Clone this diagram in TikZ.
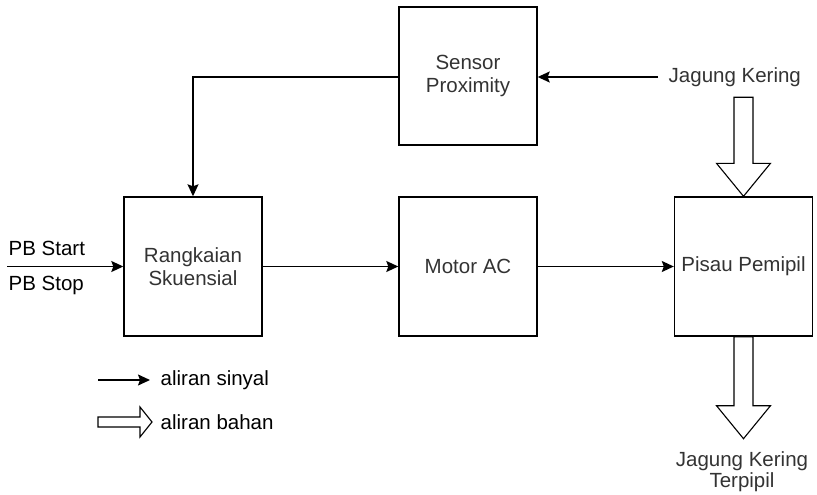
\documentclass[tikz,border=0pt]{standalone}
\usepackage{fontspec}
\setmainfont{Liberation Sans}
\usetikzlibrary{calc,arrows.meta}
\definecolor{txtgray}{HTML}{333333}

\begin{document}
\begin{tikzpicture}[x=1pt, y=-1pt, line join=miter, line width=1.4pt,
  box/.style={draw, minimum width=138pt, minimum height=139pt, inner sep=0pt,
    align=center, text=txtgray, font=\fontsize{20.5}{23}\selectfont},
  lbl/.style={inner sep=0pt, align=center, font=\fontsize{20.5}{23}\selectfont},
  sig/.style={-{Stealth[length=12pt, width=11pt, inset=2pt]}},
  bahan/.style={draw, line width=1.1pt, fill=white}]
\useasboundingbox (0,0) rectangle (817,495);
% blok
\node[box, minimum height=138pt] (sensor) at (468,76) {Sensor\\Proximity};
\node[box] (rangkaian) at (193,266.5) {Rangkaian\\Skuensial};
\node[box] (motor) at (468,266.5) {Motor AC};
\node[box] (pisau) at (743.5,266.5) {Pisau Pemipil};
% label
\node[lbl, text=txtgray, anchor=west] (jagung) at (668,77) {Jagung Kering};
\node[lbl, text=txtgray, font=\fontsize{20.5}{21}\selectfont] (hasil) at (742,472) {Jagung Kering\\Terpipil};
\node[lbl, anchor=west] (start) at (8,248) {PB Start};
\node[lbl, anchor=west] (stop) at (8,285) {PB Stop};
\coordinate (masuk) at (7,266.5);
\coordinate (jagungsrc) at (658,77);
% aliran sinyal
\draw[sig] (masuk) -- (rangkaian.west);
\draw[sig] (rangkaian.east) -- (motor.west);
\draw[sig] (motor.east) -- (pisau.west);
\draw[sig] (jagungsrc) -- (sensor.east |- jagungsrc);
\draw[sig] (sensor.west |- jagungsrc) -| (rangkaian.north);
% aliran bahan
\draw[bahan] (pisau.north) -- ++(-27,-33) -- ++(17.5,0) -- ++(0,-66)
  -- ++(19,0) -- ++(0,66) -- ++(17.5,0) -- cycle;
\draw[bahan] (pisau.south) -- ++(-9.5,0) -- ++(0,69) -- ++(-17.5,0)
  -- ++(27,33) -- ++(27,-33) -- ++(-17.5,0) -- ++(0,-69) -- cycle;
% legenda
\coordinate (ls1) at (98,380);
\coordinate (ls2) at (150,380);
\draw[sig] (ls1) -- (ls2);
\node[lbl, anchor=west] (sinyal) at (160,380) {aliran sinyal};
\draw[bahan] (98,417) -- (140,417) -- (140,407) -- (152,422) -- (140,437)
  -- (140,427) -- (98,427) -- cycle;
\node[lbl, anchor=west] (bahanlbl) at (160,422) {aliran bahan};
\end{tikzpicture}
\end{document}
